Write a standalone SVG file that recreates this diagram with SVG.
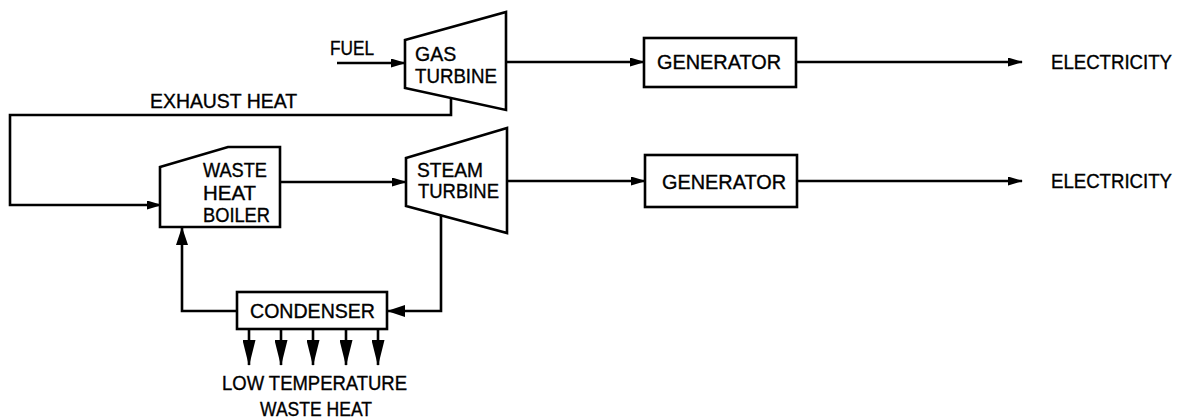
<svg xmlns="http://www.w3.org/2000/svg" width="1182" height="418" viewBox="0 0 1182 418">
  <style>
    .shape { fill: #fff; stroke: #000; stroke-width: 2.6; stroke-linejoin: miter; }
    .line { fill: none; stroke: #000; stroke-width: 2.6; }
    text { font-family: "Liberation Sans", Arial, sans-serif; font-size: 19.5px; fill: #000; stroke: #000; stroke-width: 0.35; }
  </style>
  <defs>
    <marker id="arr" markerUnits="userSpaceOnUse" markerWidth="15" markerHeight="9" refX="14" refY="4.5" orient="auto">
      <path d="M0,0 L15,4.5 L0,9 z" fill="#000"/>
    </marker>
    <marker id="arrBig" markerUnits="userSpaceOnUse" markerWidth="18" markerHeight="12" refX="17" refY="6" orient="auto">
      <path d="M0,0 L18,6 L0,12 z" fill="#000"/>
    </marker>
    <marker id="arrDown" markerUnits="userSpaceOnUse" markerWidth="26" markerHeight="13" refX="25" refY="6.5" orient="auto">
      <path d="M0,0 L26,6.5 L0,13 z" fill="#000"/>
    </marker>
  </defs>

  <g id="connectors">
    <line class="line" x1="337" y1="63" x2="405" y2="63" marker-end="url(#arr)"/>
    <line class="line" x1="506" y1="62" x2="644" y2="62" marker-end="url(#arr)"/>
    <line class="line" x1="796" y1="62" x2="1022" y2="62" marker-end="url(#arr)"/>
    <polyline class="line" points="451,98 451,115 10,115 10,205 161,205" marker-end="url(#arr)"/>
    <line class="line" x1="280" y1="182" x2="406" y2="182" marker-end="url(#arr)"/>
    <line class="line" x1="507" y1="181" x2="645" y2="181" marker-end="url(#arr)"/>
    <line class="line" x1="797" y1="181" x2="1022" y2="181" marker-end="url(#arr)"/>
    <polyline class="line" points="441,215 441,311 388,311" marker-end="url(#arrBig)"/>
    <polyline class="line" points="237,311 182,311 182,228" marker-end="url(#arrBig)"/>
    <line class="line" x1="249" y1="329" x2="249" y2="365" marker-end="url(#arrDown)"/>
    <line class="line" x1="281" y1="329" x2="281" y2="365" marker-end="url(#arrDown)"/>
    <line class="line" x1="313" y1="329" x2="313" y2="365" marker-end="url(#arrDown)"/>
    <line class="line" x1="346" y1="329" x2="346" y2="365" marker-end="url(#arrDown)"/>
    <line class="line" x1="378" y1="329" x2="378" y2="365" marker-end="url(#arrDown)"/>
  </g>

  <g id="labels">
    <text x="330" y="55" textLength="44" lengthAdjust="spacingAndGlyphs">FUEL</text>
    <text x="150" y="108" textLength="147" lengthAdjust="spacingAndGlyphs">EXHAUST HEAT</text>
    <text x="1051" y="69" textLength="121" lengthAdjust="spacingAndGlyphs">ELECTRICITY</text>
    <text x="1051" y="188" textLength="121" lengthAdjust="spacingAndGlyphs">ELECTRICITY</text>
    <text x="222" y="390" textLength="185" lengthAdjust="spacingAndGlyphs">LOW TEMPERATURE</text>
    <text x="260" y="416" textLength="112" lengthAdjust="spacingAndGlyphs">WASTE HEAT</text>
  </g>

  <g id="gas-turbine">
    <polygon class="shape" points="405,40 506,12 506,110 405,88"/>
    <text x="415" y="61">GAS</text>
    <text x="415" y="83" textLength="82" lengthAdjust="spacingAndGlyphs">TURBINE</text>
  </g>

  <g id="generator-1">
    <rect class="shape" x="644" y="38" width="152" height="49"/>
    <text x="657" y="69" textLength="124" lengthAdjust="spacingAndGlyphs">GENERATOR</text>
  </g>

  <g id="waste-heat-boiler">
    <polygon class="shape" points="160,167 228,147 280,147 280,227 160,227"/>
    <text x="203" y="177" textLength="64" lengthAdjust="spacingAndGlyphs">WASTE</text>
    <text x="203" y="200" textLength="53" lengthAdjust="spacingAndGlyphs">HEAT</text>
    <text x="203" y="222" textLength="67" lengthAdjust="spacingAndGlyphs">BOILER</text>
  </g>

  <g id="steam-turbine">
    <polygon class="shape" points="406,158 507,128 507,233 406,206"/>
    <text x="417" y="177" textLength="66" lengthAdjust="spacingAndGlyphs">STEAM</text>
    <text x="418" y="198" textLength="81" lengthAdjust="spacingAndGlyphs">TURBINE</text>
  </g>

  <g id="generator-2">
    <rect class="shape" x="645" y="155" width="152" height="52"/>
    <text x="662" y="189" textLength="124" lengthAdjust="spacingAndGlyphs">GENERATOR</text>
  </g>

  <g id="condenser">
    <rect class="shape" x="237" y="292" width="150" height="37"/>
    <text x="250" y="318" textLength="125" lengthAdjust="spacingAndGlyphs">CONDENSER</text>
  </g>
</svg>
